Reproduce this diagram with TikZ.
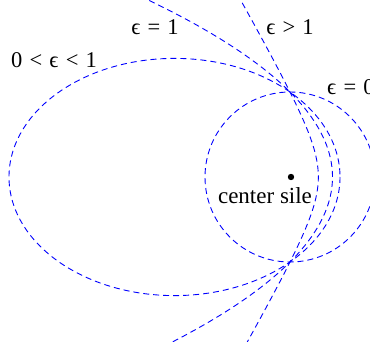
\documentclass[tikz,border=0pt]{standalone}
\usepackage{fontspec}
\setmainfont{Liberation Serif}
\newcommand\leps{ϵ}
\newcommand\gp{\hspace{0.32em}}
\begin{document}
\begin{tikzpicture}[x=1pt,y=-1pt,
  conic/.style={blue, line width=0.9pt, dash pattern=on 6pt off 4pt},
  lab/.style={font=\fontsize{22.5}{26}\selectfont, inner sep=0pt}]
\useasboundingbox (0,0) rectangle (370,342);
\begin{scope}
\clip (0,0) rectangle (370,342);
\draw[conic] (290,177) circle[radius=85];
\draw[conic] (174.5,177) ellipse[x radius=165.5, y radius=118.6];
\draw[conic] plot[domain=-185:185, samples=90, variable=\t] ({290+42.5-(\t/170)*\t}, {177+\t});
\draw[conic] plot[domain=-108:108, samples=140, variable=\a] ({290+85*cos(\a)/(1+2*cos(\a))}, {177-85*sin(\a)/(1+2*cos(\a))});
\end{scope}
\fill (291,177) circle[radius=3.2] coordinate (F);
\node[lab] (e1) at (155,27) {\leps\gp=\gp1};
\node[lab] (eg) at (290,27) {\leps\gp>\gp1};
\node[lab] (el) at (54,60) {0\gp<\gp\leps\gp<\gp1};
\node[lab, anchor=west] (e0) at (327,87) {\leps\gp=\gp0};
\node[lab, font=\fontsize{23}{27}\selectfont] (cs) at (265,196) {center sile};
\end{tikzpicture}
\end{document}
